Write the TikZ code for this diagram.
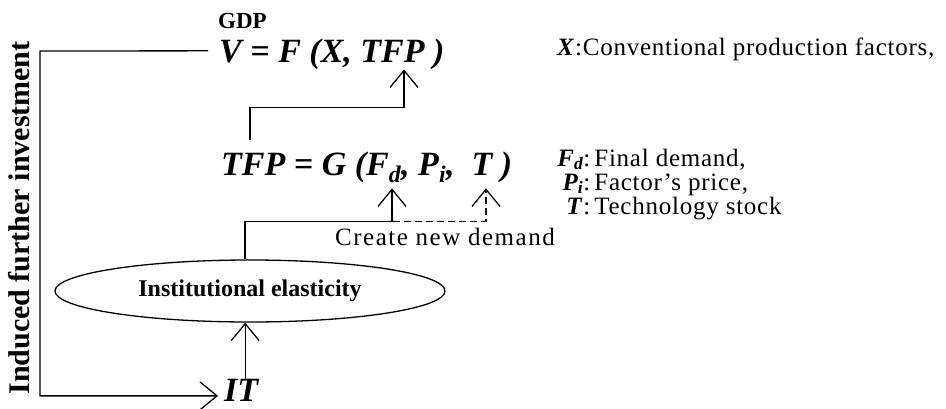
\documentclass[tikz,border=0pt]{standalone}
\usepackage{fontspec}
\setmainfont{Liberation Serif}
\usetikzlibrary{arrows.meta,shapes.geometric,calc}
\begin{document}
\begin{tikzpicture}[x=1pt,y=-1pt,
  eqn/.style={font=\fontsize{34}{34}\selectfont\bfseries\itshape, inner sep=0pt, anchor=base west},
  lgd/.style={font=\fontsize{25}{25}\selectfont\addfontfeature{LetterSpace=3}, inner sep=0pt, anchor=base west},
  bold/.style={font=\fontsize{#1}{#1}\selectfont\bfseries, inner sep=0pt},
  line/.style={line width=1.3pt},
  conn/.style={line width=1.3pt, -{Straight Barb[length=17pt,width=28pt,line width=1.3pt]}},
  dconn/.style={conn, dash pattern=on 7pt off 4pt}
]
\useasboundingbox (0,0) rectangle (946,408);

% nodes
\node[bold=23, anchor=base west] (gdp) at (218,28) {GDP};
\node[eqn] (veq) at (219,62) {V = F (X, TFP )};
\node[eqn] (tfpeq) at (221,175) {TFP = G (F\textsubscript{d}, P\textsubscript{i}, \ T )};
\node[draw, line, ellipse, minimum width=390pt, minimum height=62pt, inner sep=0pt,
      font=\fontsize{24}{24}\selectfont\bfseries] (ell) at (250,291) {Institutional elasticity};
\node[eqn] (it) at (224,401) {IT};
\node[bold=30, rotate=90] (lab) at (19,218) {Induced further investment};
\node[lgd, font=\fontsize{25}{25}\selectfont\addfontfeature{LetterSpace=6}] (create) at (335,245) {Create new demand};

\node[lgd] (legx) at (557,55) {\textbf{\textit{X}}:Conventional production factors,};
\node[lgd] (legf) at (556,166) {\makebox[34pt][r]{\textbf{\textit{F\textsubscript{d}}}:}\,Final demand,};
\node[lgd] (legp) at (556,190) {\makebox[34pt][r]{\textbf{\textit{P\textsubscript{i}}}:}\,Factor’s price,};
\node[lgd] (legt) at (556,214) {\makebox[34pt][r]{\textbf{\textit{T}}:}\,Technology stock};

% connectors
\coordinate (lc) at (40,51);
\draw[conn] ($(veq.west)+(-11,-3)$) -- (lc) |- ($(it.west)+(-6,6)$);
\draw[conn] ($(tfpeq.north west)+(29,-11)$) |- ++(154,-33) coordinate (ub) -- (ub |- veq.south);
\draw[dconn] ($(create.north west)+(3,-6)$) -| ($(tfpeq.south west)+(265,5)$);
\draw[conn] ($(ell.north)+(-5,0)$) |- ($(create.north west)+(57,-6)$) coordinate (lb) -- ($(lb |- tfpeq.south)+(0,5)$);
\draw[conn] ($(it.north)+(4,0)$) -- ($(it.north |- ell.south)+(4,0)$);
\end{tikzpicture}
\end{document}
